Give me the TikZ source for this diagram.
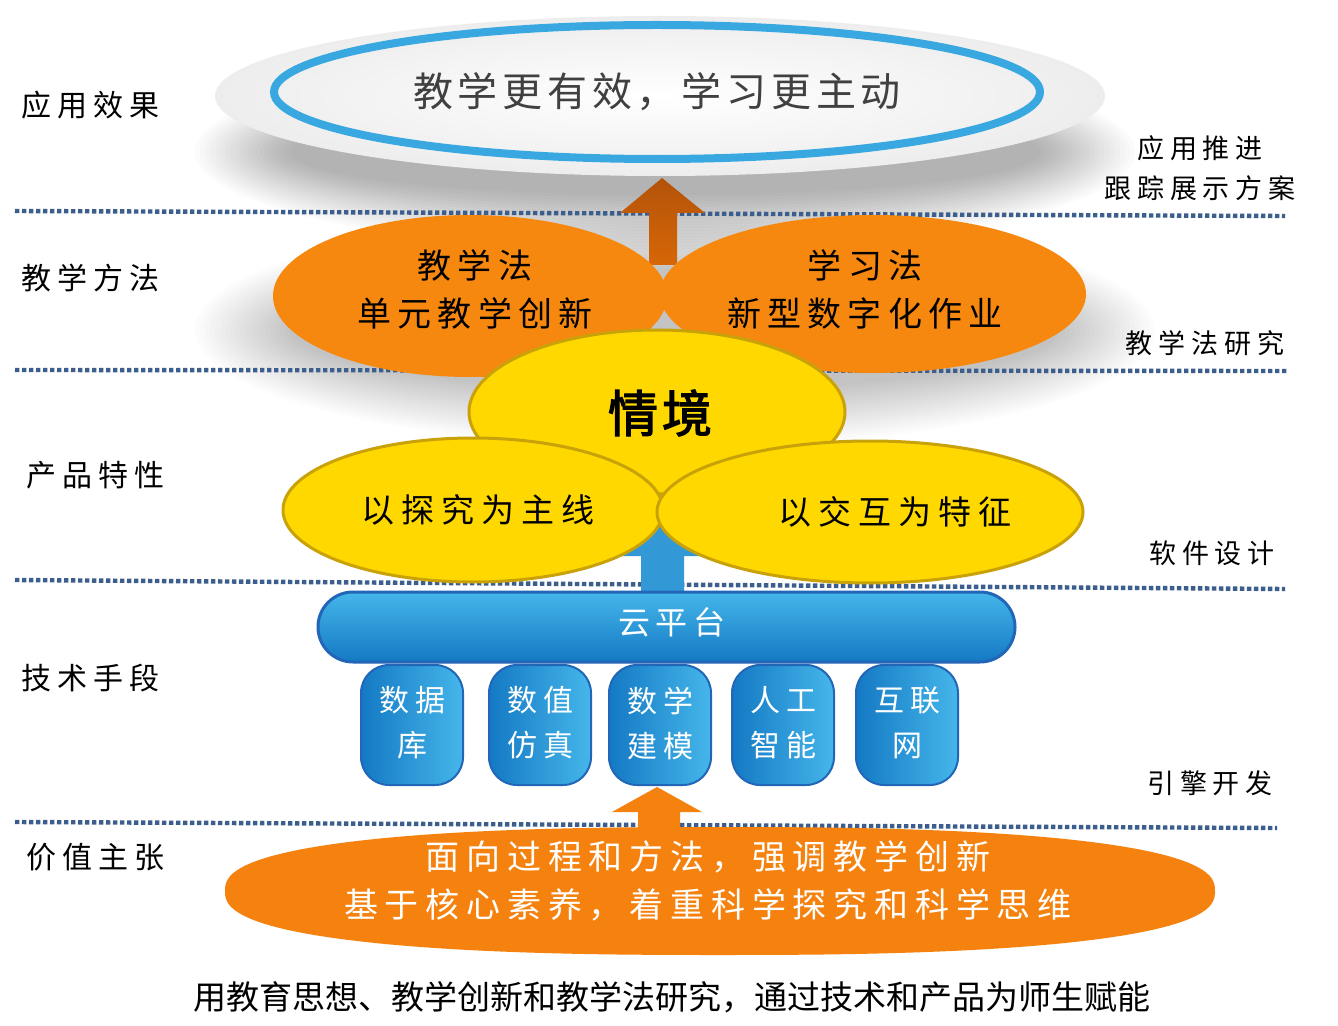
\documentclass[tikz,border=0pt]{standalone}
\usepackage{fontspec}
\setmainfont{Noto Sans CJK SC}[AutoFakeBold=2.5]
\definecolor{dotblue}{HTML}{3B5E8C}
\definecolor{ringblue}{HTML}{3AA8E0}
\definecolor{petal}{HTML}{F7880F}
\definecolor{basefill}{HTML}{F5820E}
\definecolor{rust}{HTML}{C65C0A}
\definecolor{sun}{HTML}{FFD800}
\definecolor{sunrim}{HTML}{C9A20A}
\definecolor{skyA}{HTML}{45B6EA}
\definecolor{skyB}{HTML}{1479C4}
\definecolor{skyrim}{HTML}{2266B8}
\definecolor{arrowblue}{HTML}{3399D6}
\definecolor{slate}{HTML}{404040}
\begin{document}
\begin{tikzpicture}[x=0.5pt, y=-0.5pt,
  rule/.style={draw=dotblue, line width=2.2pt, dash pattern=on 2.2pt off 1.3pt},
  side/.style={font=\fontsize{15}{18}\selectfont\addfontfeature{LetterSpace=20}},
  note/.style={align=center, font=\fontsize{13.5}{20}\selectfont\addfontfeature{LetterSpace=22}},
  petaltext/.style={align=center, font=\fontsize{17}{24}\selectfont\addfontfeature{LetterSpace=18}},
  suntext/.style={font=\fontsize{16.5}{20}\selectfont\addfontfeature{LetterSpace=21}},
  drum/.style={shade, left color=skyB, right color=skyA, draw=skyrim, line width=1pt, rounded corners=14pt},
  drumtext/.style={align=center, text=white, font=\fontsize{15}{22.5}\selectfont\addfontfeature{LetterSpace=20}}]
  \useasboundingbox (0,0) rectangle (1338,1026);
  \fill[white] (0,0) rectangle (1338,1026);
  % soft shadows behind the upper layers
  \foreach \i in {0,...,19}
    \fill[black, opacity=0.014] (665,152) ellipse[x radius={470-5*\i}, y radius={100-3*\i}];
  \foreach \i in {0,...,19}
    \fill[black, opacity=0.012] (675,330) ellipse[x radius={480-5*\i}, y radius={118-3*\i}];
  % layer rules
  \draw[rule] (15,211) -- (1285,216);
  \draw[rule] (15,370) -- (1287,371);
  \draw[rule] (15,580) -- (1285,589);
  \draw[rule] (15,822) -- (1277,828);
  % left column
  \node[side] (use)   at (90,105) {应用效果};
  \node[side] (teach) at (90,278) {教学方法};
  \node[side] (prod)  at (95,475) {产品特性};
  \node[side] (tech)  at (90,678) {技术手段};
  \node[side] (value) at (95,857) {价值主张};
  % right column
  \node[note] (track)  at (1200,168) {应用推进\\跟踪展示方案};
  \node[note] (method) at (1205,343) {教学法研究};
  \node[note] (soft)   at (1212,553) {软件设计};
  \node[note] (engine) at (1210,783) {引擎开发};
  % goal
  \shade[inner color=white, middle color=white, outer color=gray!14] (660,96) ellipse[x radius=445, y radius=80];
  \draw[ringblue, line width=4pt] (657,92) ellipse[x radius=383, y radius=67];
  \node[text=slate, font=\fontsize{20}{24}\selectfont\addfontfeature{LetterSpace=12}] (goal) at (657,92) {教学更有效，学习更主动};
  % arrow to goal
  \shade[top color=rust!90!black, bottom color=rust!70!orange]
    (649,265) -- (649,213) -- (620,213) -- (662,178) -- (705,213) -- (677,213) -- (677,265) -- cycle;
  % methods
  \fill[petal] (873,294) ellipse[x radius=213, y radius=79];
  \fill[petal] (470,296) ellipse[x radius=197, y radius=81];
  \node[petaltext] (tlaw) at (475,289) {教学法\\单元教学创新};
  \node[petaltext] (llaw) at (865,289) {学习法\\新型数字化作业};
  % arrow from platform
  \fill[arrowblue] (641,594) -- (641,556) -- (612,556) -- (660,495) -- (708,556) -- (684,556) -- (684,594) -- cycle;
  % product features
  \fill[sun, draw=sunrim, line width=1.5pt] (657,412) ellipse[x radius=188, y radius=82];
  \fill[sun, draw=sunrim, line width=1.5pt] (473,510) ellipse[x radius=190, y radius=72];
  \fill[sun, draw=sunrim, line width=1.5pt] (870,512) ellipse[x radius=213, y radius=71];
  \node[font=\fontsize{25}{30}\selectfont\bfseries\addfontfeature{LetterSpace=8}] (scene) at (660,413) {情境};
  \node[suntext] (inquiry)  at (478,510) {以探究为主线};
  \node[suntext] (interact) at (895,512) {以交互为特征};
  % cloud platform
  \shade[top color=skyA, bottom color=skyB, draw=skyrim, line width=1.5pt, rounded corners=17.5pt]
    (318,592) rectangle (1015,662);
  \node[text=white, font=\fontsize{16}{20}\selectfont\addfontfeature{LetterSpace=18}] (cloud) at (672,622) {云平台};
  % engines
  \foreach \cx in {412,540,660,783,907}
    \path[drum] (\cx-51,665) rectangle (\cx+51,785);
  \node[drumtext] (db)    at (412,723) {数据\\库};
  \node[drumtext] (sim)   at (540,723) {数值\\仿真};
  \node[drumtext] (model) at (660,723) {数学\\建模};
  \node[drumtext] (ai)    at (783,723) {人工\\智能};
  \node[drumtext] (net)   at (907,723) {互联\\网};
  % arrow from values
  \fill[basefill] (638,832) -- (638,812) -- (612,812) -- (657,787) -- (702,812) -- (680,812) -- (680,832) -- cycle;
  % values
  \fill[basefill] plot[domain=0.5:360.5, samples=121, smooth]
    ({720+495*sign(cos(\x))*pow(abs(cos(\x)),0.8)}, {891+64*sign(sin(\x))*pow(abs(sin(\x)),0.8)}) -- cycle;
  \node[align=center, text=white, font=\fontsize{17}{24}\selectfont\addfontfeature{LetterSpace=20}] (values) at (708,881)
    {面向过程和方法，强调教学创新\\基于核心素养，着重科学探究和科学思维};
  % caption
  \node[font=\fontsize{16.5}{20}\selectfont] (caption) at (672,997) {用教育思想、教学创新和教学法研究，通过技术和产品为师生赋能};
\end{tikzpicture}
\end{document}
